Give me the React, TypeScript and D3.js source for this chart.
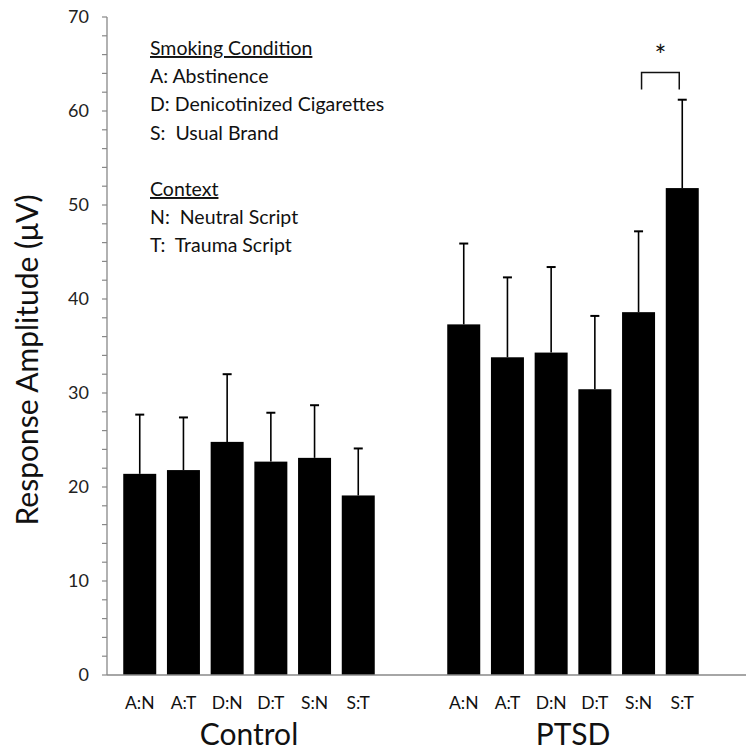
import React from "react";
import * as d3 from "d3";

const categories = ["A:N", "A:T", "D:N", "D:T", "S:N", "S:T"];
const groups = ["Control", "PTSD"];
const controlMeans = [21.4, 21.8, 24.8, 22.7, 23.1, 19.1];
const controlUpper = [27.7, 27.4, 32.0, 27.9, 28.7, 24.1];
const ptsdMeans = [37.3, 33.8, 34.3, 30.4, 38.6, 51.8];
const ptsdUpper = [45.9, 42.3, 43.4, 38.2, 47.2, 61.2];
const yTicks = [0, 10, 20, 30, 40, 50, 60, 70];
const legendLines = [
  { text: "Smoking Condition", underline: true },
  { text: "A: Abstinence", underline: false },
  { text: "D: Denicotinized Cigarettes", underline: false },
  { text: "S:  Usual Brand", underline: false },
  { text: "", underline: false },
  { text: "Context", underline: true },
  { text: "N:  Neutral Script", underline: false },
  { text: "T:  Trauma Script", underline: false },
];

const W = 746;
const H = 753;
const FONT = "Lato, 'Noto Sans', sans-serif";

export default function App() {
  const y = d3.scaleLinear().domain([0, 70]).range([675, 17]);
  const axisX = 107;
  const groupRanges: [number, number][] = [
    [118, 380],
    [442, 704],
  ];
  const data = [
    { means: controlMeans, upper: controlUpper },
    { means: ptsdMeans, upper: ptsdUpper },
  ];
  const minorTicks = d3.range(0, 70.001, 2);

  const bands = groupRanges.map((r) =>
    d3.scaleBand<string>().domain(categories).range(r).paddingInner(0.245).paddingOuter(0.12)
  );

  // significance bracket between PTSD S:N and S:T
  const pb = bands[1];
  const bx1 = (pb("S:N") as number) + pb.bandwidth() / 2 + 3;
  const bx2 = (pb("S:T") as number) + pb.bandwidth() / 2 - 3;
  const bTop = y(64.1);
  const bBot = y(62.3);

  return (
    <svg width={W} height={H} style={{ display: "block", position: "absolute", left: 0, top: 0 }}>
      <rect width={W} height={H} fill="#fff" />
      {/* bars */}
      {data.map((g, gi) =>
        categories.map((c, i) => {
          const b = bands[gi];
          const x0 = b(c) as number;
          const cx = x0 + b.bandwidth() / 2;
          return (
            <g key={`${gi}-${c}`}>
              <rect x={x0} y={y(g.means[i])} width={b.bandwidth()} height={y(0) - y(g.means[i])} fill="#000" />
              <line x1={cx} x2={cx} y1={y(g.means[i])} y2={y(g.upper[i])} stroke="#000" strokeWidth={1.6} />
              <line x1={cx - 4.5} x2={cx + 4.5} y1={y(g.upper[i])} y2={y(g.upper[i])} stroke="#000" strokeWidth={2} />
            </g>
          );
        })
      )}
      {/* y axis */}
      <line x1={axisX} x2={axisX} y1={y(70)} y2={y(0)} stroke="#888" strokeWidth={1.3} />
      {minorTicks.map((t) => (
        <line key={t} x1={axisX - 5} x2={axisX} y1={y(t)} y2={y(t)} stroke="#888" strokeWidth={1.2} />
      ))}
      {yTicks.map((t) => (
        <text key={t} x={89} y={y(t)} dy="0.36em" textAnchor="end" fontSize={18} fontFamily={FONT} fill="#222">
          {t}
        </text>
      ))}
      {/* x baseline */}
      <line x1={axisX} x2={W} y1={y(0)} y2={y(0)} stroke="#888" strokeWidth={1.3} />
      {/* x labels */}
      {groups.map((gname, gi) => {
        const b = bands[gi];
        const r = groupRanges[gi];
        return (
          <g key={gname}>
            {categories.map((c) => (
              <text key={c} x={(b(c) as number) + b.bandwidth() / 2} y={709} textAnchor="middle" fontSize={17.5} fontFamily={FONT} fill="#111">
                {c}
              </text>
            ))}
            <text x={(r[0] + r[1]) / 2} y={745} textAnchor="middle" fontSize={30} fontFamily={FONT} fill="#111">
              {gname}
            </text>
          </g>
        );
      })}
      {/* y title */}
      <text transform={`translate(38,360) rotate(-90)`} textAnchor="middle" fontSize={30} fontFamily={FONT} fill="#111">
        Response Amplitude (μV)
      </text>
      {/* legend */}
      {legendLines.map((l, i) => (
        <text
          key={i}
          x={150}
          y={55 + i * 28.2}
          fontSize={19.5}
          fontFamily={FONT}
          fill="#111"
          style={{ whiteSpace: "pre" }}
          textDecoration={l.underline ? "underline" : undefined}
        >
          {l.text}
        </text>
      ))}
      {/* significance bracket */}
      <path d={`M${bx1},${bBot} L${bx1},${bTop} L${bx2},${bTop} L${bx2},${bBot}`} fill="none" stroke="#111" strokeWidth={1.5} />
      <text x={(bx1 + bx2) / 2} y={66} textAnchor="middle" fontSize={28} fontFamily={FONT} fill="#111">
        *
      </text>
    </svg>
  );
}
